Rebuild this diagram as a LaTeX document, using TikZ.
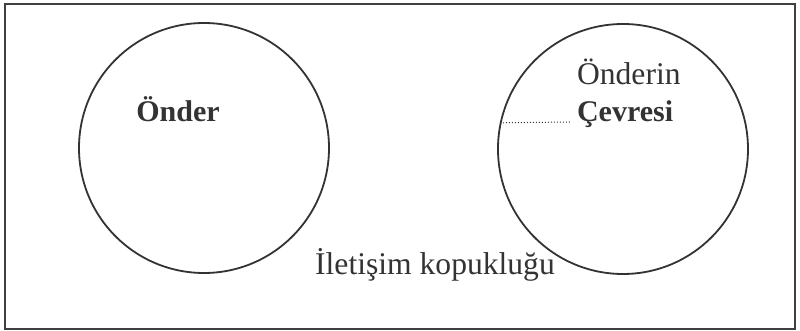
\documentclass[tikz,border=0pt]{standalone}
\usepackage{fontspec}
\setmainfont{Liberation Serif}
\usetikzlibrary{positioning}

\begin{document}
\begin{tikzpicture}[
        x = 0.5pt, y = -0.5pt,
        every node/.style = {text = black!80, font = \fontsize{15.8}{19}\selectfont},
        bold/.style = {font = \fontsize{15}{19}\selectfont\bfseries},
        circ/.style = {draw = black!80, line width = 0.9pt, circle, inner sep = 0pt, minimum size = 125pt},
        frame/.style = {draw = black!75, line width = 0.9pt}
    ]

    \useasboundingbox (0,0) rectangle (800,331);
    \draw[frame] (5,4) rectangle (795,329);

    \node[circ] (onder) at (204,148) {};
    \node[circ] (cevre) at (623,149) {};

    \node[anchor = base, bold] (onderlbl) at (178,122) {Önder};
    \node[anchor = base west] (onderin) at (570,85) {Önderin};
    \node[anchor = base west, bold] (cevresi) at (570,122) {Çevresi};
    \node[anchor = base] (kopukluk) at (435,275) {İletişim kopukluğu};

    \draw[black!80, line width = 0.5pt, dash pattern = on 0.5pt off 1pt] (cevre.168) -- (cevresi.base west);
\end{tikzpicture}
\end{document}
